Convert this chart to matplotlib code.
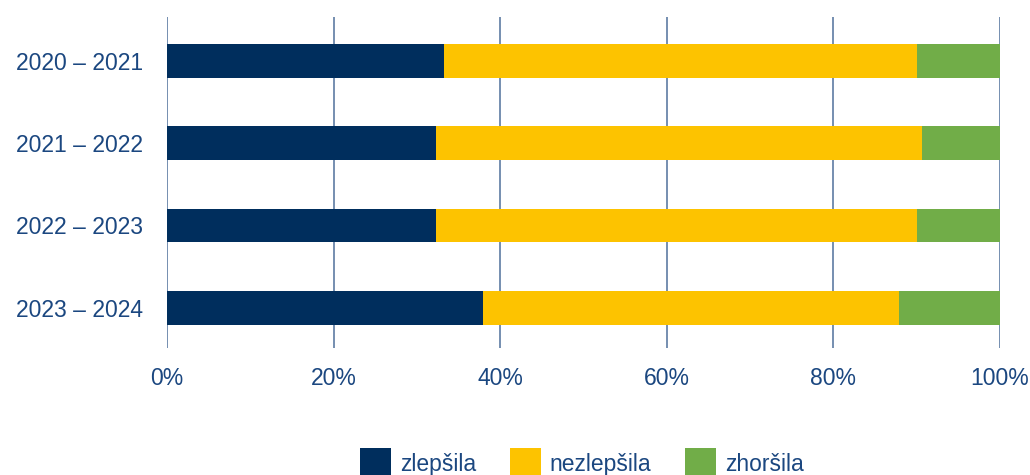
import matplotlib
matplotlib.use("Agg")
import matplotlib.pyplot as plt
import numpy as np
from matplotlib.patches import Patch

categories = ["2020 – 2021", "2021 – 2022", "2022 – 2023", "2023 – 2024"]
series_names = ["zlepšila", "nezlepšila", "zhoršila"]
zlepsila = [33.2, 32.3, 32.3, 37.9]
nezlepsila = [56.8, 58.3, 57.7, 50.0]
zhorsila = [10.0, 9.4, 10.0, 12.1]
xticks = [0, 20, 40, 60, 80, 100]
xtick_labels = ["0%", "20%", "40%", "60%", "80%", "100%"]

colors = ["#002e5d", "#fdc300", "#71ad48"]
text_color = "#1b4780"
grid_color = "#5d7ca3"

plt.rcParams['font.family'] = ['Liberation Sans', 'DejaVu Sans']

fig = plt.figure(figsize=(10.3, 4.75), dpi=100)
ax = fig.add_axes([167/1030, 1-348/475, 833/1030, 331/475])

y = np.arange(len(categories))
left = np.zeros(len(categories))
for vals, c, name in zip([zlepsila, nezlepsila, zhorsila], colors, series_names):
    ax.barh(y, vals, left=left, height=0.41, color=c, label=name, zorder=3)
    left = left + np.array(vals)

ax.set_xlim(0, 100)
ax.set_ylim(3.49, -0.535)
ax.set_xticks(xticks)
ax.set_xticklabels(xtick_labels)
ax.set_yticks(y)
ax.set_yticklabels(categories)
ax.grid(axis='x', color=grid_color, linewidth=1.2, zorder=0)
ax.grid(axis='y', visible=False)
for s in ax.spines.values():
    s.set_visible(False)
ax.tick_params(axis='both', length=0, labelsize=16.5, labelcolor=text_color)
ax.tick_params(axis='x', pad=14)
ax.tick_params(axis='y', pad=63)
for lbl in ax.get_yticklabels():
    lbl.set_ha('center')

handles = [Patch(facecolor=c, edgecolor='none') for c in colors]
fig.legend(handles, series_names, loc='center', bbox_to_anchor=(582/1030, 1-463/475),
           ncol=3, frameon=False, fontsize=16.5, labelcolor=text_color,
           handlelength=1.35, handleheight=1.6, handletextpad=0.4, columnspacing=1.45,
           borderpad=0, borderaxespad=0)

fig.savefig("out.png", dpi=100)
